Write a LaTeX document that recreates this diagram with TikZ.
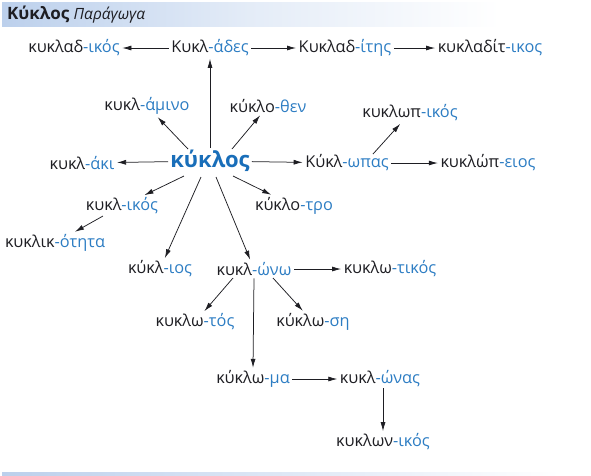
\documentclass[tikz,border=0pt]{standalone}
\usepackage{fontspec}
\setmainfont{Open Sans}
\usetikzlibrary{arrows.meta}
\definecolor{sfx}{RGB}{45,125,195}
\definecolor{big}{RGB}{25,110,185}
\definecolor{ink}{RGB}{30,30,35}
\definecolor{bar}{RGB}{188,208,236}
\newcommand{\w}[2]{#1\textcolor{sfx}{-#2}}
\tikzset{
  word/.style={font=\fontsize{16.3}{19}\selectfont, text=ink, inner sep=2.5pt},
  arr/.style={-{Latex[length=9pt,width=5pt]}, line width=0.75pt, draw=ink},
}
\begin{document}
\begin{tikzpicture}[x=1pt,y=-1pt]
\useasboundingbox (0,0) rectangle (591,475);
\shade[left color=bar, right color=white, middle color=bar!40] (2,2) rectangle (500,26);
\shade[left color=bar, right color=white] (2,472) rectangle (560,475);
\node[anchor=west, inner sep=0pt, text=ink] (title) at (7,15)
  {\fontsize{17}{20}\selectfont\textbf{Κύκλος} \itshape\fontsize{15.5}{18}\selectfont Παράγωγα};

\node[word] (kadik) at (74,48) {\w{κυκλαδ}{ικός}};
\node[word] (kades) at (210,48) {\w{Κυκλ}{άδες}};
\node[word] (kitis) at (345,48) {\w{Κυκλαδ}{ίτης}};
\node[word] (kitik) at (490,48) {\w{κυκλαδίτ}{ικος}};
\node[word] (kamin) at (147,106) {\w{κυκλ}{άμινο}};
\node[word] (kthen) at (268,106) {\w{κύκλο}{θεν}};
\node[word] (kopik) at (410,113) {\w{κυκλωπ}{ικός}};
\node[word] (kaki) at (82,163) {\w{κυκλ}{άκι}};
\node[inner sep=2pt, text=big, font=\fontsize{22}{26}\selectfont\bfseries] (kyk) at (210,161) {κύκλος};
\node[word] (kopas) at (347,163) {\w{Κύκλ}{ωπας}};
\node[word] (kopei) at (488,163) {\w{κυκλώπ}{ειος}};
\node[word] (kikos) at (122,206) {\w{κυκλ}{ικός}};
\node[word] (ktro) at (294,206) {\w{κύκλο}{τρο}};
\node[word] (kotit) at (55,243) {\w{κυκλικ}{ότητα}};
\node[word] (kios) at (160,269) {\w{κύκλ}{ιος}};
\node[word] (kono) at (254,269) {\w{κυκλ}{ώνω}};
\node[word] (ktik) at (390,269) {\w{κυκλω}{τικός}};
\node[word] (ktos) at (195,322) {\w{κυκλω}{τός}};
\node[word] (ksi) at (313,322) {\w{κύκλω}{ση}};
\node[word] (kma) at (253,379) {\w{κύκλω}{μα}};
\node[word] (konas) at (380,379) {\w{κυκλ}{ώνας}};
\node[word] (konik) at (383,442) {\w{κυκλων}{ικός}};

\draw[arr] (kades) -- (kadik);
\draw[arr] (kades) -- (kitis);
\draw[arr] (kitis) -- (kitik);
\draw[arr] (kyk.north) -- (kades.south);
\draw[arr] (188,149) -- (kamin);
\draw[arr] (232,149) -- (kthen);
\draw[arr] (kyk) -- (kaki);
\draw[arr] (kyk) -- (kopas);
\draw[arr] (373,154) -- (kopik);
\draw[arr] (kopas) -- (kopei);
\draw[arr] (184,176) -- (kikos);
\draw[arr] (103,216) -- (kotit);
\draw[arr] (233,176) -- (ktro);
\draw[arr] (201,177) -- (kios);
\draw[arr] (216,177) -- (kono);
\draw[arr] (kono) -- (ktik);
\draw[arr] (233,278) -- (ktos);
\draw[arr] (273,278) -- (ksi);
\draw[arr] (kono.south) -- (kma.north);
\draw[arr] (kma) -- (konas);
\draw[arr] (383,388) -- (konik);
\end{tikzpicture}
\end{document}
